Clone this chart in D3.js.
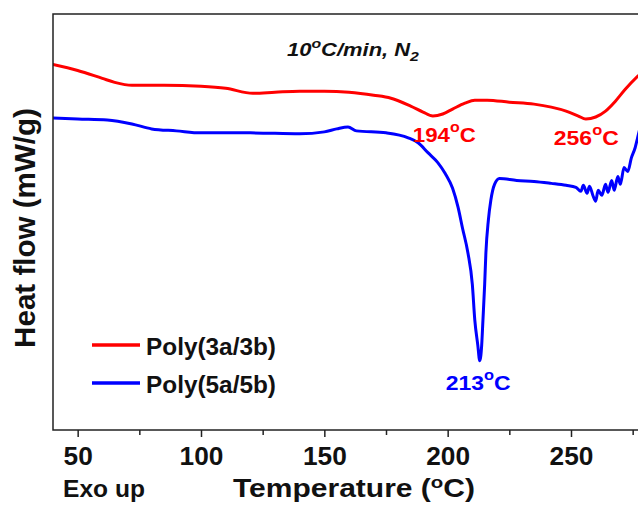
<!DOCTYPE html>
<html>
<head>
<meta charset="utf-8">
<script src="https://cdn.jsdelivr.net/npm/d3@7"></script>
<style>
  html, body { margin: 0; padding: 0; background: #fff; }
  svg { display: block; font-family: "Liberation Sans", Arial, sans-serif; }
</style>
</head>
<body>
<svg id="chart" width="638" height="506"></svg>
<script>
// DSC heating traces, 10 °C/min under N2 (heat flow offset per trace, exo up)
const tempPoly3 = [40, 50, 60, 65, 72, 85, 100, 110, 121, 130, 140, 150, 160, 170, 177, 185, 190, 194, 198, 202, 207, 211, 216, 225, 235, 242, 248, 253, 256, 260, 264, 268, 272, 277, 280];
const flowPoly3 = [1.49, 1.43, 1.35, 1.31, 1.28, 1.28, 1.27, 1.25, 1.20, 1.21, 1.22, 1.22, 1.21, 1.18, 1.15, 1.07, 1.01, 0.97, 0.99, 1.04, 1.10, 1.13, 1.13, 1.11, 1.09, 1.06, 1.02, 0.97, 0.94, 0.96, 1.02, 1.12, 1.24, 1.37, 1.44];

const tempPoly5 = [40, 50, 62, 72, 80, 90, 100, 120, 140, 150, 155, 159.6, 163, 175, 184, 188, 192, 196, 199, 202, 204.2, 206, 208.2, 210, 211, 212.2, 213, 213.8, 214.3, 215, 215.5, 216.5, 217.5, 219, 221, 228, 235, 242, 248, 252, 254, 255, 256.5, 257.5, 259, 260, 261, 262.5, 264, 265, 266.5, 267.5, 269, 270, 271.5, 273, 274.5, 276, 277, 278, 280];
const flowPoly5 = [0.95, 0.94, 0.93, 0.89, 0.84, 0.82, 0.80, 0.80, 0.79, 0.81, 0.84, 0.86, 0.82, 0.80, 0.75, 0.70, 0.60, 0.50, 0.39, 0.24, 0.05, -0.16, -0.41, -0.73, -1.09, -1.34, -1.50, -1.34, -1.09, -0.73, -0.41, -0.08, 0.12, 0.28, 0.34, 0.32, 0.31, 0.29, 0.27, 0.25, 0.21, 0.27, 0.19, 0.26, 0.16, 0.11, 0.22, 0.17, 0.28, 0.20, 0.32, 0.22, 0.36, 0.28, 0.45, 0.41, 0.55, 0.65, 0.75, 0.85, 0.98];

const seriesNames = ["Poly(3a/3b)", "Poly(5a/5b)"];
const seriesColors = ["#ff0000", "#0000ff"];

const xTicks = [50, 100, 150, 200, 250];
const xMinorTicks = [75, 125, 175, 225, 275];

// Peak annotations: temperature (°C), series index
const peakTemps = [194, 256, 213];
const peakSeries = [0, 0, 1];

const svg = d3.select("#chart");
const plot = { left: 53, top: 14, right: 645, bottom: 430 };

const x = d3.scaleLinear().domain([40, 280]).range([plot.left, plot.right]);
const y = d3.scaleLinear().domain([-2.2, 2.0]).range([plot.bottom, plot.top]);

const series = [
  d3.zip(tempPoly3, flowPoly3),
  d3.zip(tempPoly5, flowPoly5)
];

// Wide bold lettering: build text from parts and stretch it horizontally to a set width
function label(parent, transform, anchor, size, parts, width, opts = {}) {
  const g = parent.append("g").attr("transform", transform);
  const t = g.append("text")
    .attr("text-anchor", anchor)
    .attr("font-size", size)
    .attr("font-weight", "bold")
    .attr("font-style", opts.italic ? "italic" : "normal")
    .attr("fill", opts.color || "#111");
  parts.forEach(p => {
    const s = t.append("tspan").text(p.text);
    if (p.size) s.attr("font-size", p.size);
    if (p.dy) s.attr("dy", p.dy);
  });
  if (width) {
    const bw = t.node().getBBox().width;
    t.attr("transform", `scale(${width / bw},1)`);
  }
  return g;
}

svg.append("clipPath").attr("id", "plotClip")
  .append("rect")
  .attr("x", plot.left).attr("y", plot.top)
  .attr("width", plot.right - plot.left).attr("height", plot.bottom - plot.top);

const line = d3.line()
  .x(d => x(d[0]))
  .y(d => y(d[1]))
  .curve(d3.curveMonotoneX);

// Traces
svg.append("g").attr("clip-path", "url(#plotClip)")
  .selectAll("path")
  .data(series)
  .join("path")
  .attr("d", line)
  .attr("fill", "none")
  .attr("stroke", (d, i) => seriesColors[i])
  .attr("stroke-width", 3)
  .attr("stroke-linejoin", "round")
  .attr("stroke-linecap", "round");

// Frame
svg.append("rect")
  .attr("x", plot.left).attr("y", plot.top)
  .attr("width", plot.right - plot.left).attr("height", plot.bottom - plot.top)
  .attr("fill", "none")
  .attr("stroke", "#222")
  .attr("stroke-width", 1.5);

// Bottom axis with major and minor ticks
const xAxis = d3.axisBottom(x).tickValues(xTicks).tickSize(7).tickPadding(6).tickFormat(d3.format("d"));
const gx = svg.append("g").attr("transform", `translate(0,${plot.bottom})`).call(xAxis);
gx.select(".domain").remove();
gx.selectAll(".tick line").attr("stroke", "#222").attr("stroke-width", 1.5);
gx.selectAll(".tick text")
  .attr("font-size", 25).attr("font-weight", "bold").attr("fill", "#111")
  .attr("font-family", "Liberation Sans, Arial, sans-serif")
  .attr("y", 0).attr("dy", null)
  .attr("transform", "translate(0,35) scale(1.05,1)");

const xMinor = d3.axisBottom(x).tickValues(xMinorTicks).tickSize(5).tickFormat("");
const gxm = svg.append("g").attr("transform", `translate(0,${plot.bottom})`).call(xMinor);
gxm.select(".domain").remove();
gxm.selectAll(".tick line").attr("stroke", "#222").attr("stroke-width", 1.5);

// Axis titles
label(svg, "translate(354,497)", "middle", 25,
  [{ text: "Temperature (" }, { text: "o", size: 17, dy: -9 }, { text: "C)", dy: 9 }], 242);

label(svg, "translate(63,497)", "start", 24, [{ text: "Exo up" }], 82);

label(svg, "translate(35,228) rotate(-90)", "middle", 29, [{ text: "Heat flow (mW/g)" }], 240);

// Condition label
label(svg, "translate(287,56)", "start", 18,
  [{ text: "10" }, { text: "o", size: 13, dy: -8 }, { text: "C/min, N", dy: 8 }, { text: "2", size: 13, dy: 5 }],
  133, { italic: true });

// Peak temperature labels, positioned relative to each peak minimum
const peakOffsets = [[-20, 26], [-32, 26], [-34, 29]];
const peakWidths = [63, 65, 65];
peakTemps.forEach((t, k) => {
  const s = series[peakSeries[k]];
  const pt = s.reduce((a, b) => (Math.abs(b[0] - t) < Math.abs(a[0] - t) ? b : a));
  label(svg, `translate(${x(t) + peakOffsets[k][0]},${y(pt[1]) + peakOffsets[k][1]})`, "start", 21,
    [{ text: String(t) }, { text: "o", size: 15, dy: -10 }, { text: "C", dy: 10 }],
    peakWidths[k], { color: seriesColors[peakSeries[k]] });
});

// Legend
seriesNames.forEach((name, i) => {
  const ly = 345 + i * 38;
  svg.append("line")
    .attr("x1", 92).attr("x2", 140).attr("y1", ly).attr("y2", ly)
    .attr("stroke", seriesColors[i]).attr("stroke-width", 3.5);
  label(svg, `translate(146,${ly + 10})`, "start", 23, [{ text: name }], 130);
});
</script>
</body>
</html>
